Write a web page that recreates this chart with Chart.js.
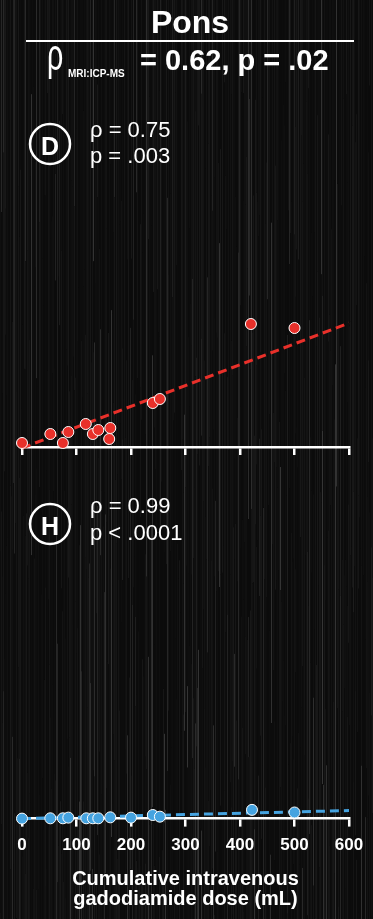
<!DOCTYPE html>
<html>
<head>
<meta charset="utf-8">
<title>Pons</title>
<script src="https://cdn.jsdelivr.net/npm/chart.js@4.4.1/dist/chart.umd.min.js"></script>
<style>
  html, body { margin: 0; padding: 0; background: #0d0d0d; }
  body { width: 373px; height: 919px; position: relative; overflow: hidden; }
  canvas { position: absolute; left: 0; display: block; }
  #bg { top: 0; }
  #mri { top: 180px; }
  #icp { top: 560px; }
</style>
</head>
<body>
<canvas id="bg" width="373" height="919"></canvas>
<canvas id="mri" width="373" height="275"></canvas>
<canvas id="icp" width="373" height="359"></canvas>
<script>
// Cumulative gadodiamide dose (mL) per subject
const doseMRI = [0, 52, 75, 85, 117, 130, 140, 160, 162, 240, 253, 420, 500];
const doseICP = [0, 52, 75, 85, 118, 130, 140, 162, 200, 240, 253, 422, 500];
// Pons signal (panel D) and pons gadolinium (panel H)
const valuesMRI = [0.04, 0.13, 0.04, 0.15, 0.23, 0.13, 0.17, 0.08, 0.19, 0.44, 0.48, 1.23, 1.19];
const valuesICP = [0, 0.03, 0.03, 0.1, 0.03, 0.03, 0.03, 0.13, 0.1, 0.37, 0.2, 0.9, 0.63];
// Fitted trend lines: [dose, value] at both ends
const fitMRI = [[0, -0.01], [600, 1.24]];
const fitICP = [[0, 0], [600, 0.83]];
const xTicks = [0, 100, 200, 300, 400, 500, 600];

const FONT = "'Liberation Sans', Arial, sans-serif";

// brushed-metal backdrop and headings
(function drawBackdrop() {
  const c = document.getElementById('bg');
  const ctx = c.getContext('2d');
  ctx.fillStyle = '#0c0c0c';
  ctx.fillRect(0, 0, c.width, c.height);
  let s = 1234567;
  const rnd = () => { s = (s * 1103515245 + 12345) % 2147483648; return s / 2147483648; };
  for (let x = 0; x < c.width; x++) {
    let y = 0;
    while (y < c.height) {
      const len = 80 + rnd() * 500;
      const r = rnd();
      let g = 11 + Math.floor(r * r * 16);
      if (r > 0.92) g = 28 + Math.floor(rnd() * 26);
      ctx.fillStyle = `rgb(${g},${g},${g})`;
      ctx.fillRect(x, y, 1, len);
      y += len;
    }
  }

  ctx.fillStyle = '#fff';
  ctx.strokeStyle = '#fff';
  ctx.textBaseline = 'alphabetic';

  ctx.font = `bold 32px ${FONT}`;
  ctx.textAlign = 'center';
  ctx.fillText('Pons', 190, 33);

  ctx.lineWidth = 2;
  ctx.beginPath();
  ctx.moveTo(26, 41);
  ctx.lineTo(354, 41);
  ctx.stroke();

  ctx.textAlign = 'left';
  ctx.save();
  ctx.translate(47, 70);
  ctx.scale(0.65, 1);
  ctx.font = `44px ${FONT}`;
  ctx.fillText('\u03C1', 0, 0);
  ctx.restore();
  ctx.font = `bold 10px ${FONT}`;
  ctx.fillText('MRI:ICP-MS', 68, 77);
  ctx.font = `bold 29px ${FONT}`;
  ctx.fillText('= 0.62, p = .02', 140, 70);

  function badge(letter, cx, cy, baseY) {
    ctx.lineWidth = 2.5;
    ctx.beginPath();
    ctx.arc(cx, cy, 20, 0, Math.PI * 2);
    ctx.stroke();
    ctx.font = `bold 25px ${FONT}`;
    ctx.textAlign = 'center';
    ctx.fillText(letter, cx, baseY);
    ctx.textAlign = 'left';
  }
  badge('D', 50, 144, 155);
  ctx.font = `22px ${FONT}`;
  ctx.fillText('\u03C1 = 0.75', 90, 137);
  ctx.fillText('p = .003', 90, 163);

  badge('H', 50, 524, 535);
  ctx.font = `22px ${FONT}`;
  ctx.fillText('\u03C1 = 0.99', 90, 513);
  ctx.fillText('p < .0001', 90, 540);
})();

function panel(id, doses, values, fit, color, showLabels) {
  const xScale = {
    type: 'linear',
    min: 0,
    max: 600,
    afterBuildTicks: (axis) => { axis.ticks = xTicks.map(v => ({ value: v })); },
    grid: {
      display: true,
      drawOnChartArea: false,
      drawTicks: true,
      tickLength: 8,
      color: '#ffffff',
      lineWidth: 2.5
    },
    border: { display: true, color: '#ffffff', width: 2.5 },
    ticks: {
      display: showLabels,
      color: '#ffffff',
      padding: 9,
      maxRotation: 0,
      font: { family: FONT, size: 17, weight: 'bold' }
    },
    title: {
      display: showLabels,
      text: ['Cumulative intravenous', 'gadodiamide dose (mL)'],
      color: '#ffffff',
      padding: { top: 4, bottom: 7 },
      font: { family: FONT, size: 20, weight: 'bold', lineHeight: 1 }
    }
  };
  return new Chart(document.getElementById(id), {
    data: {
      datasets: [
        {
          type: 'scatter',
          data: doses.map((d, i) => ({ x: d, y: values[i] })),
          backgroundColor: color,
          borderColor: '#ffffff',
          borderWidth: 1,
          pointRadius: 5.5,
          pointHoverRadius: 5.5,
          clip: false,
          order: 0
        },
        {
          type: 'line',
          data: fit.map(p => ({ x: p[0], y: p[1] })),
          borderColor: color,
          borderWidth: 3,
          borderDash: [9, 5],
          pointRadius: 0,
          fill: false,
          clip: false,
          order: 1
        }
      ]
    },
    options: {
      responsive: false,
      animation: false,
      devicePixelRatio: 1,
      layout: { padding: { left: 22, right: 24, top: id === 'mri' ? 7 : 2, bottom: id === 'mri' ? 0 : 3 } },
      plugins: { legend: { display: false }, tooltip: { enabled: false } },
      scales: {
        x: xScale,
        y: { type: 'linear', display: false, min: 0, max: id === 'mri' ? 2.6 : 26 }
      }
    }
  });
}

panel('mri', doseMRI, valuesMRI, fitMRI, '#e8302a', false);
panel('icp', doseICP, valuesICP, fitICP, '#45a3e0', true);
</script>
</body>
</html>
